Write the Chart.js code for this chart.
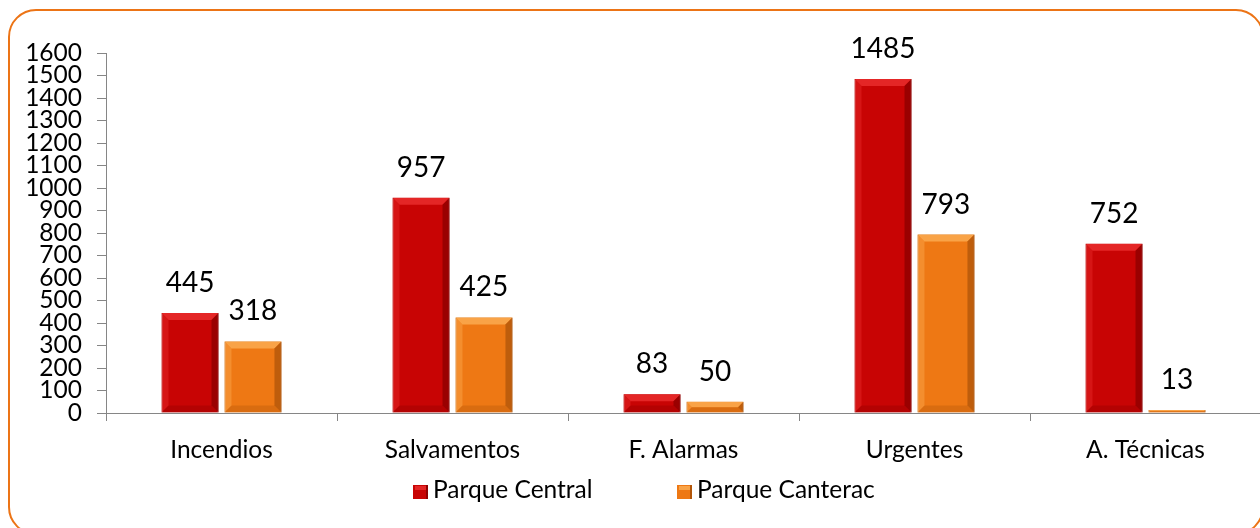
<!DOCTYPE html>
<html>
<head>
<meta charset="utf-8">
<script src="https://cdn.jsdelivr.net/npm/chart.js@4.4.1/dist/chart.umd.min.js"></script>
<style>
  html, body { margin: 0; padding: 0; background: #fff; overflow: hidden; }
  #wrap { position: relative; width: 1270px; height: 528px; }
</style>
</head>
<body>
<div id="wrap"><canvas id="chart"></canvas></div>
<script>
const categories = ['Incendios', 'Salvamentos', 'F. Alarmas', 'Urgentes', 'A. Técnicas'];
const parqueCentral = [445, 957, 83, 1485, 752];
const parqueCanterac = [318, 425, 50, 793, 13];
const seriesNames = ['Parque Central', 'Parque Canterac'];
const yTicks = [0, 100, 200, 300, 400, 500, 600, 700, 800, 900, 1000, 1100, 1200, 1300, 1400, 1500, 1600];

const FONT = 'Lato, "Open Sans", sans-serif';
const fills = ['#C80404', '#EE7814'];
const lights = ['#E42626', '#F9A347'];
const darks = ['#8E0000', '#B2560A'];

// orange rounded frame behind everything
const framePlugin = {
    id: 'frame',
    beforeDraw(chart) {
        const ctx = chart.ctx;
        ctx.save();
        ctx.strokeStyle = '#EC7416';
        ctx.lineWidth = 2;
        ctx.beginPath();
        ctx.roundRect(9, 10, 1254, 524, 27);
        ctx.stroke();
        ctx.restore();
    }
};

// bevel look on the bars + value labels above them
const bevelPlugin = {
    id: 'bevel',
    afterDatasetsDraw(chart) {
        const ctx = chart.ctx;
        chart.data.datasets.forEach((ds, di) => {
            chart.getDatasetMeta(di).data.forEach((bar, i) => {
                const l = bar.x - bar.width / 2, r = bar.x + bar.width / 2;
                const t = bar.y, b = bar.base;
                const bv = Math.min(7, (b - t) / 2);
                ctx.save();
                // top
                ctx.fillStyle = lights[di];
                ctx.beginPath();
                ctx.moveTo(l, t); ctx.lineTo(r, t); ctx.lineTo(r - bv, t + bv); ctx.lineTo(l + bv, t + bv);
                ctx.fill();
                // left
                ctx.globalAlpha = 0.5;
                ctx.beginPath();
                ctx.moveTo(l, t); ctx.lineTo(l + bv, t + bv); ctx.lineTo(l + bv, b - bv); ctx.lineTo(l, b);
                ctx.fill();
                // right
                ctx.globalAlpha = 0.8;
                ctx.fillStyle = darks[di];
                ctx.beginPath();
                ctx.moveTo(r, t); ctx.lineTo(r, b); ctx.lineTo(r - bv, b - bv); ctx.lineTo(r - bv, t + bv);
                ctx.fill();
                // bottom
                ctx.globalAlpha = 0.35;
                ctx.beginPath();
                ctx.moveTo(l, b); ctx.lineTo(r, b); ctx.lineTo(r - bv, b - bv); ctx.lineTo(l + bv, b - bv);
                ctx.fill();
                ctx.restore();

                // value label
                ctx.save();
                ctx.fillStyle = '#000';
                ctx.font = '28px ' + FONT;
                ctx.textAlign = 'center';
                ctx.textBaseline = 'alphabetic';
                ctx.fillText(String(ds.data[i]), bar.x, t - 21);
                ctx.restore();
            });
        });
    }
};

// legend drawn below the axis
const legendPlugin = {
    id: 'customLegend',
    afterDraw(chart) {
        const ctx = chart.ctx;
        const xs = [413, 677];
        const base = 498;
        ctx.save();
        ctx.font = '24.5px ' + FONT;
        ctx.textBaseline = 'alphabetic';
        ctx.textAlign = 'left';
        chart.data.datasets.forEach((ds, di) => {
            const x = xs[di];
            ctx.fillStyle = fills[di];
            ctx.fillRect(x, 485, 15, 14);
            ctx.fillStyle = lights[di];
            ctx.fillRect(x + 2, 486, 11, 4);
            ctx.fillStyle = darks[di];
            ctx.fillRect(x + 13, 485, 2, 14);
            ctx.fillStyle = '#000';
            ctx.fillText(ds.label, x + 20, base);
        });
        ctx.restore();
    }
};

new Chart(document.getElementById('chart'), {
    type: 'bar',
    data: {
        labels: categories,
        datasets: [
            { label: seriesNames[0], data: parqueCentral, backgroundColor: fills[0], borderColor: darks[0], borderWidth: 1 },
            { label: seriesNames[1], data: parqueCanterac, backgroundColor: fills[1], borderColor: darks[1], borderWidth: 1 }
        ]
    },
    options: {
        responsive: true,
        maintainAspectRatio: false,
        animation: false,
        layout: { padding: { top: 53, right: 9, bottom: 55, left: 0 } },
        datasets: {
            bar: { categoryPercentage: 0.545, barPercentage: 0.905 }
        },
        scales: {
            x: {
                offset: true,
                border: { color: '#868686', width: 1 },
                grid: { display: true, offset: true, drawOnChartArea: false, tickLength: 8, color: '#868686' },
                ticks: { color: '#000', font: { family: FONT, size: 24.5 }, padding: 14, maxRotation: 0 },
                afterFit(scale) { scale.height = 60; }
            },
            y: {
                min: 0,
                max: 1600,
                border: { color: '#868686', width: 1 },
                grid: { display: true, drawOnChartArea: false, tickLength: 9, color: '#868686' },
                ticks: {
                    stepSize: 100,
                    autoSkip: false,
                    color: '#000',
                    padding: 15,
                    font: { family: FONT, size: 24.5 },
                    callback: (v) => yTicks.includes(v) ? String(v) : ''
                },
                afterFit(scale) { scale.width = 106; }
            }
        },
        plugins: {
            legend: { display: false },
            tooltip: { enabled: false }
        }
    },
    plugins: [framePlugin, bevelPlugin, legendPlugin]
});
</script>
</body>
</html>
